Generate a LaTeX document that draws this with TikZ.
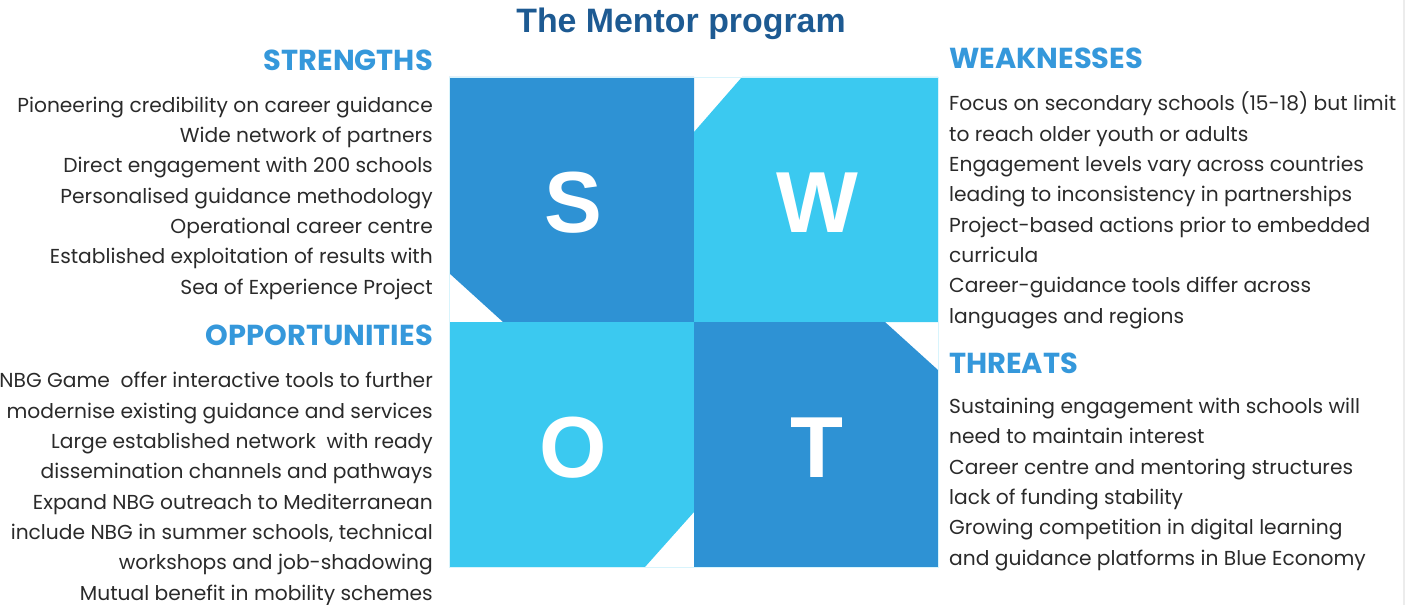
\documentclass[tikz,border=0pt]{standalone}
\usepackage{fontspec}
\setmainfont{Poppins}
\newfontfamily\headfont{Liberation Sans}
\definecolor{swotdark}{HTML}{2E92D4}
\definecolor{swotlight}{HTML}{3BC9F0}
\definecolor{titleblue}{HTML}{1D5A92}
\definecolor{headblue}{HTML}{3598DB}
\definecolor{bodygray}{HTML}{2A2A2A}

\begin{document}
\begin{tikzpicture}[x=1bp, y=-1bp,
    letter/.style={anchor=base, text=white, font=\headfont\bfseries\fontsize{87}{87}\selectfont},
    heading/.style={inner sep=0pt, text=headblue, font=\bfseries\fontsize{29}{29}\selectfont},
    bodyleft/.style={inner sep=0pt, anchor=base east, align=right, text=bodygray, font=\fontsize{20.3}{30.4}\selectfont},
    bodyright/.style={inner sep=0pt, anchor=base west, align=left, text=bodygray, font=\fontsize{20.3}{30.4}\selectfont}]
    \useasboundingbox (0,0) rectangle (1416,605);
    \draw[gray!15, line width=2] (1404,0) -- (1404,605);

    % the four quadrants
    \fill[swotdark] (449,77) -- (694,77) -- (694,322) -- (503,322) -- (449,273) -- cycle;
    \fill[swotlight] (742,77) -- (938,77) -- (938,322) -- (694,322) -- (694,132) -- cycle;
    \fill[swotlight] (449,322) -- (694,322) -- (694,512) -- (645,567) -- (449,567) -- cycle;
    \fill[swotdark] (694,322) -- (885,322) -- (938,370) -- (938,567) -- (694,567) -- cycle;
    \draw[swotlight!20, line width=0.8] (449,77) rectangle (938,567);

    \node[letter] (s) at (573,232) {S};
    \node[letter] (w) at (817,232) {W};
    \node[letter] (o) at (573,477) {O};
    \node[letter] (t) at (817,477) {T};

    \node[anchor=base, inner sep=0pt, text=titleblue, font=\headfont\bfseries\fontsize{34}{34}\selectfont] (title) at (681,33) {The Mentor program};

    \node[heading, anchor=base east] (strengths) at (433,71) {STRENGTHS};
    \node[heading, anchor=base west] (weaknesses) at (949,69) {WEAKNESSES};
    \node[heading, anchor=base east] (opportunities) at (433,345) {OPPORTUNITIES};
    \node[heading, anchor=base west] (threats) at (949,373) {THREATS};

    \node[bodyleft] (strlist) at (433,294) {Pioneering credibility on career guidance\\
        Wide network of partners\\
        Direct engagement with 200 schools~\\
        Personalised guidance methodology\\
        Operational career centre\\
        Established exploitation of results with\\
        Sea of Experience Project~};
    \node[bodyright] (weaklist) at (949,323) {Focus on secondary schools (15-18) but limit\\
        to reach older youth or adults\\
        Engagement levels vary across countries\\
        leading to inconsistency in partnerships\\
        Project-based actions prior to embedded\\
        curricula\\
        Career-guidance tools differ across\\
        languages and regions};
    \node[bodyleft] (opplist) at (433,600) {NBG Game~ offer interactive tools to further\\
        modernise existing guidance and services\\
        Large established network~ with ready\\
        dissemination channels and pathways\\
        Expand NBG outreach to Mediterranean~\\
        include NBG in summer schools, technical\\
        workshops and job-shadowing\\
        Mutual benefit in mobility schemes};
    \node[bodyright] (thrlist) at (949,565) {Sustaining engagement with schools will\\
        need to maintain interest\\
        Career centre and mentoring structures\\
        lack of funding stability\\
        Growing competition in digital learning\\
        and guidance platforms in Blue Economy};
\end{tikzpicture}
\end{document}
